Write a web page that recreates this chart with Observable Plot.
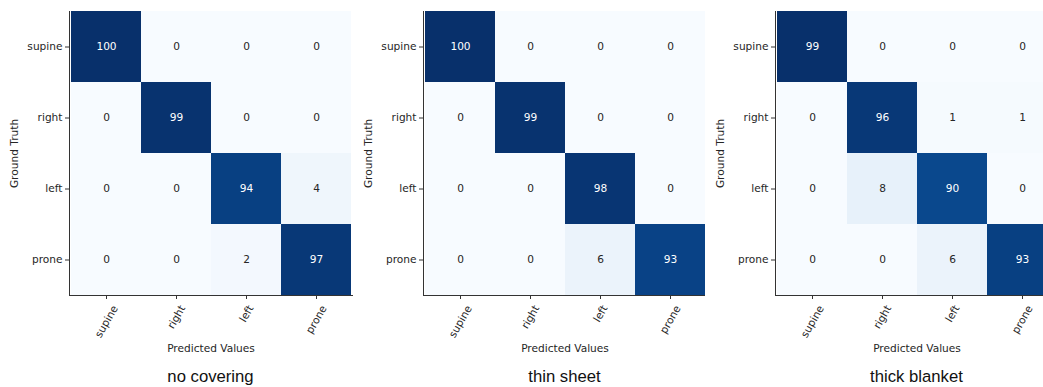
<!DOCTYPE html>
<html>
<head>
<meta charset="utf-8">
<script src="https://cdn.jsdelivr.net/npm/d3@7"></script>
<script src="https://cdn.jsdelivr.net/npm/@observablehq/plot@0.6"></script>
<style>
  html, body { margin: 0; padding: 0; background: #fff; overflow: hidden; }
  #wrap { position: relative; width: 1043px; height: 387px; overflow: hidden; }
  .panel { position: absolute; top: 0; }
  .panel svg { max-width: none !important; display: block; }
  .caption { position: absolute; top: 367px; height: 20px; line-height: 20px; text-align: center;
             font-family: "Liberation Sans", Arial, sans-serif; font-size: 16.7px; color: #111; }
</style>
</head>
<body>
<div id="wrap"></div>
<script>
const classes = ["supine", "right", "left", "prone"];
const titles = ["no covering", "thin sheet", "thick blanket"];
const noCovering   = [[100, 0, 0, 0], [0, 99, 0, 0], [0, 0, 94, 4], [0, 0, 2, 97]];
const thinSheet    = [[100, 0, 0, 0], [0, 99, 0, 0], [0, 0, 98, 0], [0, 0, 6, 93]];
const thickBlanket = [[99, 0, 0, 0], [0, 96, 1, 1], [0, 8, 90, 0], [0, 0, 6, 93]];
const matrices = [noCovering, thinSheet, thickBlanket];

const panelLeft = [-1, 353, 705];
const ML = 70, MT = 11, FW = 283, FH = 284, H = 358;
const FS = 10.6;

const wrap = document.getElementById("wrap");

matrices.forEach((m, k) => {
  const rows = [];
  m.forEach((r, i) => r.forEach((v, j) => rows.push({truth: classes[i], pred: classes[j], value: v})));
  const maxV = d3.max(rows, d => d.value), minV = d3.min(rows, d => d.value);
  const thr = (maxV + minV) / 2;
  const W = ML + FW + 1;

  const chart = Plot.plot({
    width: W,
    height: H,
    marginLeft: ML, marginRight: 1, marginTop: MT, marginBottom: H - MT - FH,
    style: {fontFamily: "DejaVu Sans, sans-serif", fontSize: FS + "px", color: "#262626", background: "#fff", overflow: "visible"},
    x: {domain: classes, padding: 0},
    y: {domain: classes, padding: 0},
    color: {type: "linear", scheme: "blues", domain: [minV, maxV]},
    marks: [
      Plot.cell(rows, {x: "pred", y: "truth", fill: "value", inset: 0}),
      Plot.text(rows.filter(d => d.value <= thr), {x: "pred", y: "truth", text: d => String(d.value), fill: "#262626", fontSize: FS}),
      Plot.text(rows.filter(d => d.value > thr), {x: "pred", y: "truth", text: d => String(d.value), fill: "#ffffff", fontSize: FS}),
      Plot.axisY({tickSize: 4, tickPadding: 3, label: null, fontSize: FS, stroke: "#333"}),
      Plot.axisX({tickSize: 4, tickPadding: 3, tickRotate: -60, label: null, fontSize: FS, stroke: "#333"}),
      Plot.frame({anchor: "left", stroke: "#333"}),
      Plot.frame({anchor: "bottom", stroke: "#333"}),
      Plot.text(["Ground Truth"], {frameAnchor: "left", dx: -55, rotate: -90, textAnchor: "middle", lineAnchor: "middle", fontSize: FS}),
      Plot.text(["Predicted Values"], {frameAnchor: "bottom", dy: 53, textAnchor: "middle", lineAnchor: "middle", fontSize: FS})
    ]
  });

  const div = document.createElement("div");
  div.className = "panel";
  div.style.left = panelLeft[k] + "px";
  div.style.width = W + "px";
  div.appendChild(chart);
  wrap.appendChild(div);

  const cap = document.createElement("div");
  cap.className = "caption";
  cap.style.left = (panelLeft[k] + ML) + "px";
  cap.style.width = FW + "px";
  cap.textContent = titles[k];
  wrap.appendChild(cap);

  // matplotlib-style rotated tick labels: centred on the tick, top just below the axis
  const xs = chart.scale("x");
  const svgRect = chart.getBoundingClientRect();
  chart.querySelectorAll('g[aria-label="x-axis tick label"] text').forEach(el => {
    const t = el.textContent;
    const tx = xs.apply(t) + xs.bandwidth / 2;
    const r = el.getBoundingClientRect();
    const cx = r.left + r.width / 2 - svgRect.left;
    const top = r.top - svgRect.top;
    const sx = tx - cx, sy = (MT + FH + 8) - top;
    el.setAttribute("transform", `translate(${sx},${sy}) ` + (el.getAttribute("transform") || ""));
  });
});
</script>
</body>
</html>
